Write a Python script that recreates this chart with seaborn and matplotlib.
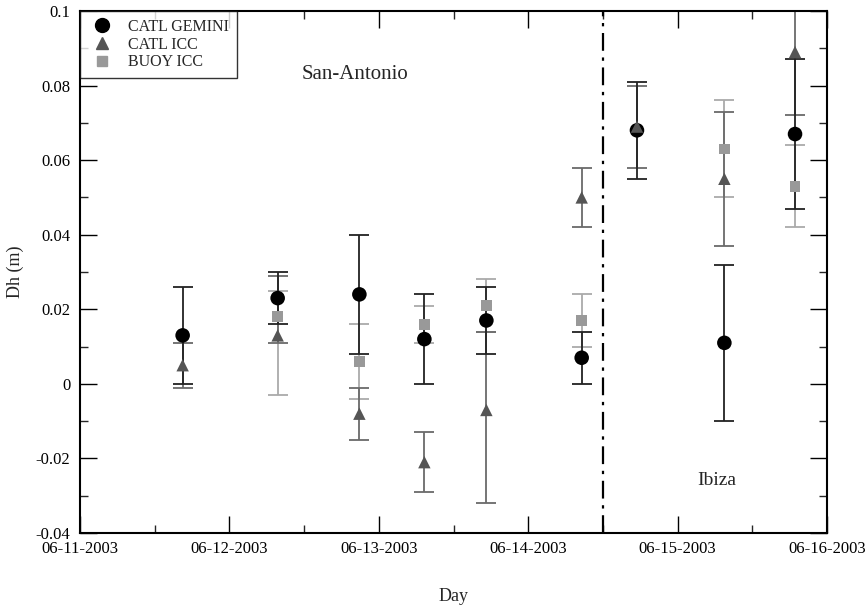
import matplotlib
matplotlib.use("Agg")
import matplotlib.pyplot as plt
import seaborn as sns
import pandas as pd
import numpy as np
from matplotlib.ticker import MultipleLocator, FixedLocator, FuncFormatter
from matplotlib.lines import Line2D

# ---- data (x in days since 06-11-2003) ----
gem_x = [0.687, 1.323, 1.870, 2.305, 2.720, 3.358, 3.728, 4.313, 4.786]
gem_y = [0.013, 0.023, 0.024, 0.012, 0.017, 0.007, 0.068, 0.011, 0.067]
gem_lo = [0.000, 0.016, 0.008, 0.000, 0.008, 0.000, 0.055, -0.010, 0.047]
gem_hi = [0.026, 0.030, 0.040, 0.024, 0.026, 0.014, 0.081, 0.032, 0.087]

icc_x = [0.687, 1.323, 1.870, 2.305, 2.720, 3.358, 3.728, 4.313, 4.786]
icc_y = [0.005, 0.013, -0.008, -0.021, -0.007, 0.050, 0.069, 0.055, 0.089]
icc_lo = [-0.001, 0.011, -0.015, -0.029, -0.032, 0.042, 0.058, 0.037, 0.072]
icc_hi = [0.011, 0.029, -0.001, -0.013, 0.014, 0.058, 0.080, 0.073, 0.106]

buoy_x = [1.323, 1.870, 2.305, 2.720, 3.358, 4.313, 4.786]
buoy_y = [0.018, 0.006, 0.016, 0.021, 0.017, 0.063, 0.053]
buoy_lo = [-0.003, -0.004, 0.011, 0.014, 0.010, 0.050, 0.042]
buoy_hi = [0.025, 0.016, 0.021, 0.028, 0.024, 0.076, 0.064]

tick_pos = [0, 1, 2, 3, 4, 5]
tick_labels = ["06-11-2003", "06-12-2003", "06-13-2003",
               "06-14-2003", "06-15-2003", "06-16-2003"]
divider_x = 3.5

sns.set_theme(style="white")
plt.rcParams['font.family'] = ['Liberation Serif', 'DejaVu Serif']

fig = plt.figure(figsize=(8.68, 6.06), dpi=100)
ax = fig.add_axes([80/868, 73/606, 747/868, 522/606])

series = [
    ("CATL GEMINI", gem_x, gem_y, gem_lo, gem_hi, "o", "#000000", "#222222"),
    ("CATL ICC", icc_x, icc_y, icc_lo, icc_hi, "^", "#555555", "#6a6a6a"),
    ("BUOY ICC", buoy_x, buoy_y, buoy_lo, buoy_hi, "s", "#999999", "#aaaaaa"),
]

for name, xs, ys, lo, hi, m, c, ec in reversed(series):
    ys_a = np.array(ys); lo_a = np.array(lo); hi_a = np.array(hi)
    ax.errorbar(xs, ys_a, yerr=[ys_a - lo_a, hi_a - ys_a], fmt="none",
                ecolor=ec, elinewidth=1.3, capsize=7.5, capthick=1.3, zorder=2)

frames = []
for name, xs, ys, lo, hi, m, c, ec in series:
    frames.append(pd.DataFrame({"x": xs, "y": ys, "series": name}))
df = pd.concat(frames, ignore_index=True)

sns.scatterplot(data=df, x="x", y="y", hue="series", style="series",
                markers={s[0]: s[5] for s in series},
                palette={s[0]: s[6] for s in series},
                size="series", sizes={"CATL GEMINI": 110, "CATL ICC": 80, "BUOY ICC": 60},
                edgecolor="none", linewidth=0, ax=ax, zorder=3, legend=False)

ax.axvline(divider_x, color="black", linestyle=(0, (8, 3, 1.5, 3)), linewidth=1.6, zorder=1)

ax.set_xlim(0, 5)
ax.set_ylim(-0.04, 0.1)
ax.xaxis.set_major_locator(FixedLocator(tick_pos))
ax.set_xticklabels(tick_labels)
ax.xaxis.set_minor_locator(MultipleLocator(0.5))
ax.yaxis.set_major_locator(MultipleLocator(0.02))
ax.yaxis.set_minor_locator(MultipleLocator(0.01))
ax.yaxis.set_major_formatter(FuncFormatter(lambda v, p: f"{v:g}" if abs(v) > 1e-9 else "0"))

ax.tick_params(which="major", direction="in", length=12, width=1, top=True, right=True,
               labelsize=12, colors="black")
ax.tick_params(which="minor", direction="in", length=6, width=1, top=True, right=True)
ax.tick_params(axis="x", which="both", bottom=True, pad=6)
ax.tick_params(axis="y", which="both", left=True, pad=7)
for sp in ax.spines.values():
    sp.set_color("black")
    sp.set_linewidth(1.5)

ax.set_xlabel("Day", fontsize=13, labelpad=22)
ax.set_ylabel("Dh (m)", fontsize=13, labelpad=8)

ax.text(1.84, 0.083, "San-Antonio", fontsize=15, ha="center", va="center")
ax.text(4.26, -0.026, "Ibiza", fontsize=14, ha="center", va="center")

handles = [Line2D([], [], marker=s[5], color=s[6], linestyle="none",
                  markersize=(10 if s[5] == "o" else 8.5 if s[5] == "^" else 7.5)) for s in series]
leg = ax.legend(handles, [s[0] for s in series], loc="upper left", fontsize=11.5,
                frameon=True, fancybox=False, edgecolor="black", borderaxespad=0,
                handletextpad=0.8, labelspacing=0.1, borderpad=0.5, handlelength=1.7)
leg.get_frame().set_linewidth(1.0)

fig.savefig("out.png", dpi=100)
